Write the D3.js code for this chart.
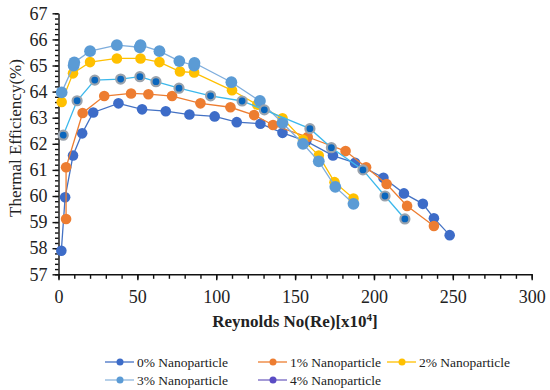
<!DOCTYPE html>
<html lang="en">
<head>
   <meta charset="UTF-8">
   <title>Thermal Efficiency vs Reynolds No</title>
   <style>
      html, body {
         margin: 0;
         padding: 0;
         background: #fff;
         overflow: hidden;
      }

      text {
         font-family: "Liberation Serif", "Times New Roman", serif;
         fill: #222;
      }

      .axis text {
         font-family: "Liberation Serif", "Times New Roman", serif;
         font-size: 18px;
         fill: #222;
      }

      .axis path, .axis line {
         stroke: #111;
         stroke-width: 1.4;
      }

      .series-line {
         fill: none;
         stroke-width: 1.3;
      }
   </style>
   <script src="https://cdn.jsdelivr.net/npm/d3@7"></script>
</head>
<body>
   <svg id="chart" width="550" height="390"></svg>
   <script>
      // data
      const seriesNames = ['0% Nanoparticle', '1% Nanoparticle', '2% Nanoparticle', '3% Nanoparticle', '4% Nanoparticle']

      const re0 = [1.8, 4.2, 9.2, 15, 22, 38, 53, 68, 83, 99, 113, 128, 142, 157, 174, 188, 206, 219, 231, 238, 248]
      const eff0 = [57.9, 59.95, 61.55, 62.4, 63.2, 63.55, 63.32, 63.25, 63.12, 63.05, 62.83, 62.77, 62.42, 62.1, 61.55, 61.27, 60.7, 60.1, 59.7, 59.15, 58.5]

      const re1 = [4.8, 4.8, 15.3, 29, 46, 57, 72, 90, 109, 124, 136, 158, 182, 195, 208, 221, 238]
      const eff1 = [59.12, 61.1, 63.18, 63.83, 63.93, 63.9, 63.83, 63.55, 63.4, 63.1, 62.72, 62.26, 61.72, 61.1, 60.46, 59.62, 58.85]

      const re2 = [2, 9.2, 20, 37, 52, 64, 77, 86, 110, 126, 142, 155, 165, 175, 187]
      const eff2 = [63.6, 64.7, 65.13, 65.27, 65.27, 65.13, 64.77, 64.73, 64.05, 63.5, 62.98, 62.15, 61.55, 60.53, 59.9]

      const re3 = [2, 9.6, 10, 20, 37, 51.5, 52, 64, 76.6, 86, 86.2, 109.6, 127.7, 142, 155, 165, 175.5, 187]
      const eff3 = [63.97, 65.0, 65.12, 65.55, 65.78, 65.7, 65.78, 65.55, 65.17, 65.0, 65.1, 64.36, 63.64, 62.8, 62.0, 61.33, 60.35, 59.7]

      const re4 = [3, 11.8, 23, 39.4, 51.6, 61.8, 76.4, 96.4, 116.4, 130.5, 159.4, 173, 193, 207, 219.6]
      const eff4 = [62.33, 63.65, 64.44, 64.48, 64.57, 64.38, 64.13, 63.84, 63.64, 63.3, 62.58, 61.85, 61.0, 60.0, 59.12]

      const xTicks = [0, 50, 100, 150, 200, 250, 300]
      const yTicks = [57, 58, 59, 60, 61, 62, 63, 64, 65, 66, 67]

      const reValues = [re0, re1, re2, re3, re4]
      const effValues = [eff0, eff1, eff2, eff3, eff4]

      // styles per series: line, marker fill, marker stroke, radius
      const lineColors = ['#4472C4', '#ED7D31', '#FFC000', '#7FAEDD', '#3CB8EC']
      const markerColors = ['#3D6CC8', '#ED7D31', '#FFC000', '#5B9BD5', '#0A66BD']
      const markerStrokes = ['none', 'none', 'none', 'none', '#9AA3AD']
      const markerRadius = [5.3, 5.3, 5.3, 5.9, 4.5]
      const legendLine = ['#4472C4', '#ED7D31', '#FFC000', '#8FB6DE', '#7565C2']
      const legendMarker = ['#3D6CC8', '#ED7D31', '#FFC000', '#5B9BD5', '#5A4CC4']

      const svg = d3.select('#chart')

      const padding = {
         top: 13.3,
         left: 58.5,
         right: 18.3,
         bottom: 115.7
      }

      const WIDTH = +svg.attr('width') - padding.left - padding.right
      const HEIGHT = +svg.attr('height') - padding.top - padding.bottom

      const chart = svg.append('g')
         .attr('transform', `translate(${padding.left}, ${padding.top})`)

      // scales
      const xScale = d3.scaleLinear()
         .domain([0, 300])
         .range([0, WIDTH])

      const yScale = d3.scaleLinear()
         .domain([57, 67])
         .range([HEIGHT, 0])

      // minor ticks first, majors on top
      chart.append('g')
         .attr('class', 'axis')
         .call(d3.axisLeft(yScale).tickValues(d3.range(57, 67.001, 0.2)).tickSize(3.5).tickFormat(''))
         .select('.domain').remove()

      chart.append('g')
         .attr('class', 'axis')
         .attr('transform', `translate(0, ${HEIGHT})`)
         .call(d3.axisBottom(xScale).tickValues(d3.range(0, 301, 10)).tickSize(4.5).tickFormat(''))
         .select('.domain').remove()

      const yAxis = d3.axisLeft(yScale)
         .tickValues(yTicks)
         .tickSize(6)
         .tickSizeOuter(0)
         .tickPadding(5)
         .tickFormat(d3.format('d'))

      chart.append('g')
         .attr('class', 'axis')
         .call(yAxis)

      const xAxis = d3.axisBottom(xScale)
         .tickValues(xTicks)
         .tickSize(6)
         .tickSizeOuter(0)
         .tickPadding(10)
         .tickFormat(d3.format('d'))

      chart.append('g')
         .attr('class', 'axis')
         .attr('transform', `translate(0, ${HEIGHT})`)
         .call(xAxis)

      // axis titles
      svg.append('text')
         .attr('transform', 'translate(21, 138) rotate(-90)')
         .attr('text-anchor', 'middle')
         .style('font-size', '17px')
         .text('Thermal Efficiency(%)')

      const xTitle = svg.append('text')
         .attr('x', 295)
         .attr('y', 327)
         .attr('text-anchor', 'middle')
         .style('font-size', '17px')
         .style('font-weight', 'bold')

      xTitle.append('tspan').text('Reynolds No(Re)[x10')
      xTitle.append('tspan')
         .attr('dy', -6)
         .style('font-size', '11px')
         .text('4')
      xTitle.append('tspan')
         .attr('dy', 6)
         .text(']')

      // lines and markers
      const line = d3.line()
         .x(d => xScale(d[0]))
         .y(d => yScale(d[1]))

      seriesNames.forEach((name, i) => {
         const points = reValues[i].map((r, j) => [r, effValues[i][j]])

         chart.append('path')
            .datum(points)
            .attr('class', 'series-line')
            .attr('stroke', lineColors[i])
            .attr('d', line)

         chart.append('g')
            .selectAll('circle')
            .data(points)
            .enter()
            .append('circle')
            .attr('cx', d => xScale(d[0]))
            .attr('cy', d => yScale(d[1]))
            .attr('r', markerRadius[i])
            .attr('fill', markerColors[i])
            .attr('stroke', markerStrokes[i])
            .attr('stroke-width', 2.2)
      })

      // legend
      const legendX = [105, 258, 387]
      const legendY = [362, 380]

      seriesNames.forEach((name, i) => {
         const x = legendX[i % 3]
         const y = legendY[Math.floor(i / 3)]
         const item = svg.append('g')
            .attr('transform', `translate(${x}, ${y})`)

         item.append('line')
            .attr('x1', 0)
            .attr('x2', 29)
            .attr('stroke', legendLine[i])
            .attr('stroke-width', 1.3)

         item.append('circle')
            .attr('cx', 15)
            .attr('r', 3.5)
            .attr('fill', legendMarker[i])

         item.append('text')
            .attr('x', 32)
            .attr('dy', '0.35em')
            .style('font-size', '13.5px')
            .text(name)
      })
   </script>
</body>
</html>
